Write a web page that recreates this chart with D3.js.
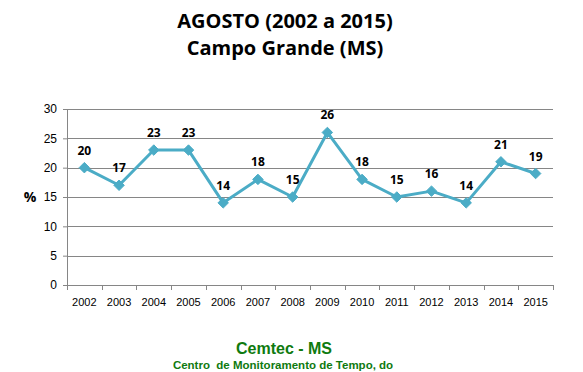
<!DOCTYPE html>
<html>
<head>
<meta charset="utf-8">
<script src="https://cdn.jsdelivr.net/npm/d3@7"></script>
<style>
  body { margin: 0; background: #fff; }
  svg { display: block; }
</style>
</head>
<body>
<div id="chart"></div>
<script>
const YEARS = ["2002","2003","2004","2005","2006","2007","2008","2009","2010","2011","2012","2013","2014","2015"];
const VALUES = [20, 17, 23, 23, 14, 18, 15, 26, 18, 15, 16, 14, 21, 19];
const Y_TICKS = [0, 5, 10, 15, 20, 25, 30];
const TITLE_LINES = ["AGOSTO (2002 a 2015)", "Campo Grande (MS)"];
const FOOTER_LINES = ["Cemtec - MS", "Centro  de Monitoramento de Tempo, do"];

const W = 583, H = 372;
const margin = { top: 109, right: 30, bottom: 87, left: 67 };
const innerW = W - margin.left - margin.right;
const innerH = H - margin.top - margin.bottom;

const svg = d3.select("#chart").append("svg")
  .attr("width", W)
  .attr("height", H)
  .style("font-family", "'Open Sans', 'Liberation Sans', sans-serif");

// titles
svg.selectAll("text.title")
  .data(TITLE_LINES)
  .enter().append("text")
  .attr("class", "title")
  .attr("x", 285)
  .attr("y", (d, i) => 28 + i * 27)
  .attr("text-anchor", "middle")
  .attr("font-size", 20)
  .attr("font-weight", 700)
  .attr("fill", "#000")
  .text(d => d);

const g = svg.append("g").attr("transform", `translate(${margin.left},${margin.top})`);

const x = d3.scaleBand().domain(YEARS).range([0, innerW]);
const y = d3.scaleLinear().domain([0, 30]).range([innerH, 0]);

// gridlines
g.append("g")
  .selectAll("line")
  .data(Y_TICKS.filter(t => t > 0))
  .enter().append("line")
  .attr("x1", 0).attr("x2", innerW)
  .attr("y1", d => Math.round(y(d)) + 0.5)
  .attr("y2", d => Math.round(y(d)) + 0.5)
  .attr("stroke", "#868686");

// y axis
const gy = g.append("g")
  .call(d3.axisLeft(y).tickValues(Y_TICKS).tickSize(4).tickPadding(6));
gy.select(".domain").attr("stroke", "#868686");
gy.selectAll("line").attr("stroke", "#868686");
gy.selectAll("text").attr("fill", "#000").attr("font-size", 12)
  .style("font-family", "'Liberation Sans', Arial, sans-serif");

// x axis, ticks between categories
const gx = g.append("g").attr("transform", `translate(0,${innerH})`);
gx.append("line")
  .attr("x1", 0).attr("x2", innerW)
  .attr("y1", 0.5).attr("y2", 0.5)
  .attr("stroke", "#868686");
gx.selectAll("line.tick")
  .data(d3.range(YEARS.length + 1))
  .enter().append("line")
  .attr("class", "tick")
  .attr("x1", i => Math.round(i * x.bandwidth()) + 0.5)
  .attr("x2", i => Math.round(i * x.bandwidth()) + 0.5)
  .attr("y1", 0).attr("y2", 5)
  .attr("stroke", "#868686");
gx.selectAll("text")
  .data(YEARS)
  .enter().append("text")
  .attr("x", d => x(d) + x.bandwidth() / 2)
  .attr("y", 21)
  .attr("text-anchor", "middle")
  .attr("font-size", 11)
  .style("font-family", "'Liberation Sans', Arial, sans-serif")
  .attr("fill", "#000")
  .text(d => d);

// y label
svg.append("text")
  .attr("x", 30)
  .attr("y", 202)
  .attr("text-anchor", "middle")
  .attr("font-size", 14)
  .attr("font-weight", 700)
  .attr("fill", "#000")
  .text("%");

// line
const pts = YEARS.map((yr, i) => ({ yr, v: VALUES[i] }));
const line = d3.line()
  .x(d => x(d.yr) + x.bandwidth() / 2)
  .y(d => y(d.v));

g.append("path")
  .datum(pts)
  .attr("fill", "none")
  .attr("stroke", "#4bacc6")
  .attr("stroke-width", 3)
  .attr("stroke-linejoin", "round")
  .attr("d", line);

g.selectAll("path.marker")
  .data(pts)
  .enter().append("path")
  .attr("class", "marker")
  .attr("transform", d => `translate(${x(d.yr) + x.bandwidth() / 2},${y(d.v)})`)
  .attr("d", d3.symbol(d3.symbolDiamond2, 70))
  .attr("fill", "#4bacc6")
  .attr("stroke", "#4bacc6");

g.selectAll("text.lbl")
  .data(pts)
  .enter().append("text")
  .attr("class", "lbl")
  .attr("x", d => x(d.yr) + x.bandwidth() / 2)
  .attr("y", d => y(d.v) - 13)
  .attr("text-anchor", "middle")
  .attr("font-size", 12)
  .attr("font-weight", 700)
  .attr("fill", "#000")
  .text(d => d.v);

// footer
svg.append("text")
  .attr("x", 284)
  .attr("y", 354)
  .attr("text-anchor", "middle")
  .attr("font-size", 16)
  .attr("font-weight", 700)
  .attr("fill", "#0f7a0f")
  .style("font-family", "'Liberation Sans', Arial, sans-serif")
  .text(FOOTER_LINES[0]);

svg.append("text")
  .attr("x", 283)
  .attr("y", 369)
  .attr("text-anchor", "middle")
  .attr("font-size", 11.5)
  .attr("font-weight", 700)
  .attr("fill", "#0f7a0f")
  .style("font-family", "'Liberation Sans', Arial, sans-serif")
  .style("white-space", "pre")
  .text(FOOTER_LINES[1]);
</script>
</body>
</html>
